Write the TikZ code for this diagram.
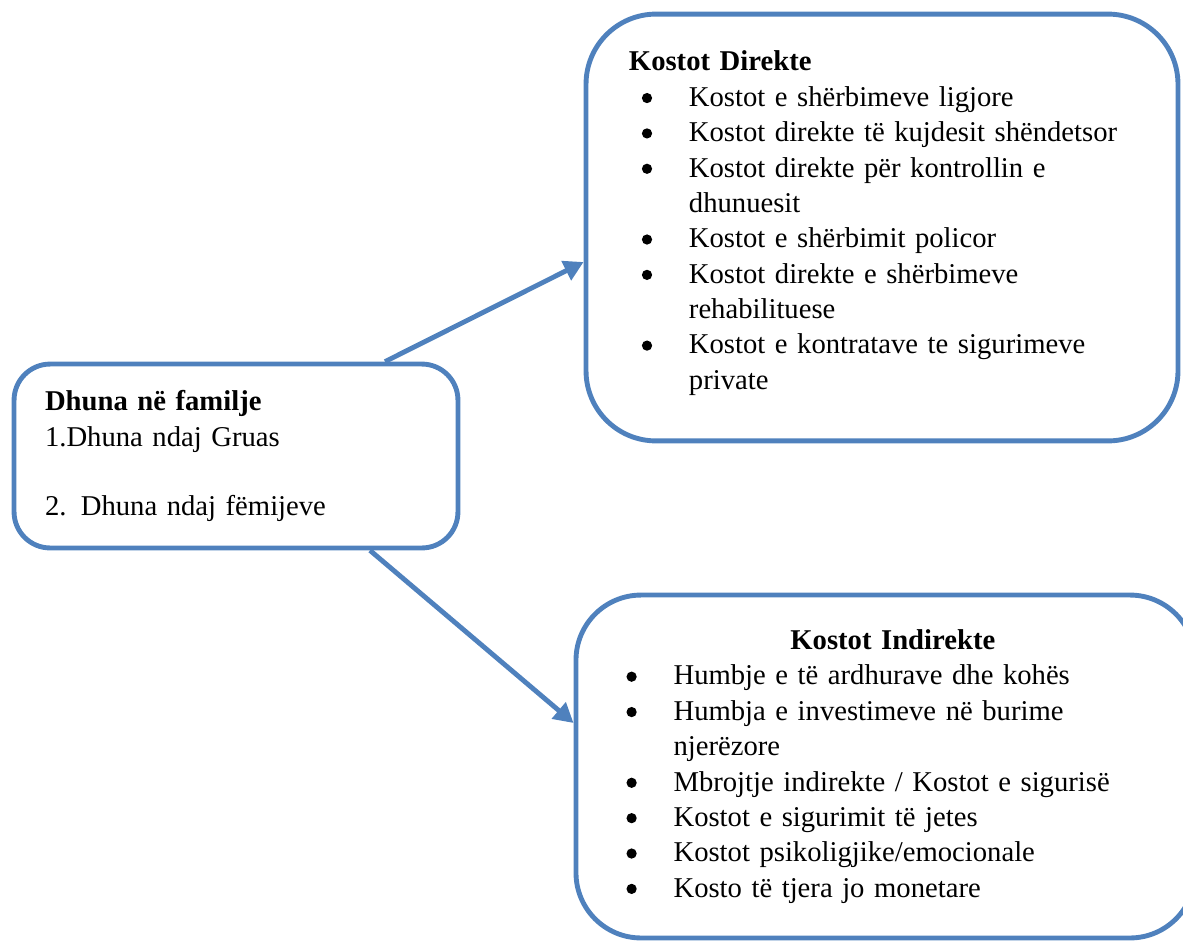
\documentclass[tikz,border=0pt]{standalone}
\usepackage{fontspec}
\setmainfont{Liberation Serif}
\usepackage{tikz}
\usetikzlibrary{positioning,arrows.meta,calc}
\definecolor{wordblue}{HTML}{4F81BD}
\newcommand{\costfont}{\fontsize{11.75pt}{14.5pt}\selectfont}
\newcommand{\costbullet}{\tikz[baseline=0pt]\fill (0,3.4pt) circle (2.1pt);}
\newenvironment{costlist}{%
  \begin{list}{\costbullet}{\setlength{\leftmargin}{24.6pt}\setlength{\labelwidth}{9.5pt}%
    \setlength{\labelsep}{15.1pt}\setlength{\itemsep}{0pt}\setlength{\parsep}{0pt}%
    \setlength{\topsep}{0pt}\setlength{\partopsep}{0pt}}}
  {\end{list}}
\tikzset{
  >={Triangle[length=8pt, width=8.5pt]},
  frame/.style={draw=wordblue, line width=2pt, rounded corners=#1, align=left,
                font=\costfont, inner ysep=0pt},
  frame/.default=15pt,
  link/.style={->, draw=wordblue, line width=2pt}
}

\begin{document}
\begin{tikzpicture}[x=0.41pt, y=-0.41pt]
\useasboundingbox (0,0) rectangle (1183,943);
% source box
\node[frame=14.8pt, minimum width=182pt, minimum height=75.4pt, inner xsep=12.7pt,
      text width=156.6pt] (family) at (236,456)
  {\textbf{Dhuna në familje}\\ 1.Dhuna ndaj Gruas\\[13.7pt] 2. Dhuna ndaj fëmijeve};
% direct costs
\node[frame=28.7pt, minimum width=242.7pt, minimum height=175pt, inner xsep=17.6pt,
      text width=207.5pt] (direct) at (882,227.5)
  {\textbf{Kostot Direkte}
   \begin{costlist}
   \item Kostot e shërbimeve ligjore
   \item Kostot direkte të kujdesit shëndetsor
   \item Kostot direkte për kontrollin e\\ dhunuesit
   \item Kostot e shërbimit policor
   \item Kostot direkte e shërbimeve\\ rehabilituese
   \item Kostot e kontratave te sigurimeve\\ private\rule[-6pt]{0pt}{6pt}
   \end{costlist}};
% indirect costs
\node[frame=26.7pt, minimum width=253.8pt, minimum height=140.6pt, inner xsep=15.4pt,
      text width=223pt] (indirect) at (885.5,766.5)
  {{\centering\hspace*{6pt}\textbf{Kostot Indirekte}\par}
   \begin{costlist}
   \item Humbje e të ardhurave dhe kohës
   \item Humbja e investimeve në burime\\ njerëzore
   \item Mbrojtje indirekte / Kostot e sigurisë
   \item Kostot e sigurimit të jetes
   \item Kostot psikoligjike/emocionale
   \item Kosto të tjera jo monetare
   \end{costlist}};
% connectors
\draw[link] ($(family.north)+(149,0)$) -- ($(direct.west)+(0,34.5)$);
\draw[link] ($(family.south)+(134,0)$) -- ($(indirect.west)+(0,-43.5)$);
\end{tikzpicture}
\end{document}
